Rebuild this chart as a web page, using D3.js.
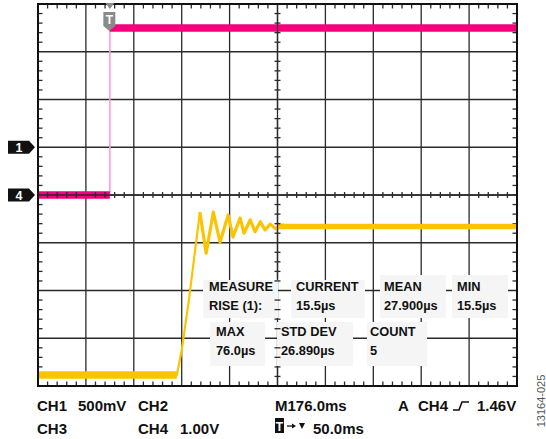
<!DOCTYPE html>
<html>
<head>
<meta charset="utf-8">
<script src="https://cdn.jsdelivr.net/npm/d3@7"></script>
<style>
  html, body { margin: 0; padding: 0; background: #fff; }
  svg { display: block; }
  text { font-family: "Liberation Sans", Arial, sans-serif; }
</style>
</head>
<body>
<script>
// Scope screen: 10 horizontal x 8 vertical divisions, values in divisions.
// x: 0..10 from left edge, y: -4..4 around the centre line.

// CH4 (magenta) – step at the trigger point
const ch4Time  = [0, 1.50, 1.50, 10];
const ch4Level = [0, 0, 3.50, 3.50];

// CH1 (yellow) – delayed rise with damped ringing, then settled
const ch1Time  = [0, 2.90, 3.00, 3.15, 3.38, 3.51, 3.66, 3.80, 3.97, 4.07,
                  4.22, 4.30, 4.43, 4.53, 4.64, 4.74, 4.85, 4.97, 5.10, 5.26, 10];
const ch1Level = [-3.77, -3.77, -3.25, -2.20, -0.36, -1.22, -0.36, -0.99, -0.42, -0.88,
                  -0.48, -0.80, -0.52, -0.77, -0.56, -0.73, -0.61, -0.71, -0.63, -0.67, -0.66];

// Flat (noisy) stretches of each trace: [from, to, level]
const ch4Bands = [[0, 1.50, 0], [1.50, 10, 3.50]];
const ch1Bands = [[0, 2.90, -3.77], [5.0, 10, -0.66]];

// Channel ground markers on the left edge
const markerNames  = ["1", "4"];
const markerLevels = [1, 0];

// Measurement table
const measTitles = ["MEASURE", "CURRENT", "MEAN", "MIN", "MAX", "STD DEV", "COUNT"];
const measValues = ["RISE (1):", "15.5µs", "27.900µs", "15.5µs", "76.0µs", "26.890µs", "5"];

// Status line text
const statusRow1 = ["CH1", "500mV", "CH2", "M176.0ms", "A", "CH4", "1.46V"];
const statusRow2 = ["CH3", "CH4", "1.00V", "50.0ms"];
const figureId = "13164-025";

const W = 546, H = 439;
const svg = d3.select("body").append("svg").attr("width", W).attr("height", H);

const x = d3.scaleLinear().domain([0, 10]).range([38, 517]);
const y = d3.scaleLinear().domain([-4, 4]).range([386, 4]);

const gridColor = "#2a2a2a";
const g = svg.append("g");

// Major grid lines
const majorX = d3.range(1, 10);
const majorY = d3.range(-3, 4);
g.selectAll("line.vx").data(majorX).join("line")
  .attr("x1", d => x(d)).attr("x2", d => x(d))
  .attr("y1", y(4)).attr("y2", y(-4))
  .attr("stroke", gridColor).attr("stroke-width", 1.3);
g.selectAll("line.hy").data(majorY).join("line")
  .attr("x1", x(0)).attr("x2", x(10))
  .attr("y1", d => y(d)).attr("y2", d => y(d))
  .attr("stroke", gridColor).attr("stroke-width", 1.3);

// Minor ticks on the frame and on the centre cross
const minorX = d3.range(1, 50).filter(i => i % 5 !== 0).map(i => i / 5);
const minorY = d3.range(-19, 20).filter(i => i % 5 !== 0).map(i => i / 5);
const tickG = svg.append("g").attr("stroke", gridColor).attr("stroke-width", 1.3);
// top & bottom
tickG.selectAll("line.tt").data(minorX).join("line")
  .attr("x1", d => x(d)).attr("x2", d => x(d)).attr("y1", y(4)).attr("y2", y(4) + 4.5);
tickG.selectAll("line.tb").data(minorX).join("line")
  .attr("x1", d => x(d)).attr("x2", d => x(d)).attr("y1", y(-4)).attr("y2", y(-4) - 4.5);
// left & right
tickG.selectAll("line.tl").data(minorY).join("line")
  .attr("y1", d => y(d)).attr("y2", d => y(d)).attr("x1", x(0)).attr("x2", x(0) + 4.5);
tickG.selectAll("line.tr").data(minorY).join("line")
  .attr("y1", d => y(d)).attr("y2", d => y(d)).attr("x1", x(10)).attr("x2", x(10) - 4.5);

// Traces
const line = d3.line().x(d => x(d[0])).y(d => y(d[1]));
const ch1Pts = ch1Time.map((t, i) => [t, ch1Level[i]]);

// CH1 yellow
const yellow = "#fcc400";
svg.append("path").datum(ch1Pts.slice(0, 5)).attr("d", line)
  .attr("fill", "none").attr("stroke", yellow).attr("stroke-width", 2.2)
  .attr("stroke-linejoin", "round");
// ringing drawn heavier, as the noise thickens the trace there
svg.append("path").datum(ch1Pts.slice(4)).attr("d", line)
  .attr("fill", "none").attr("stroke", yellow).attr("stroke-width", 3.2)
  .attr("stroke-linejoin", "round");
svg.selectAll("line.b1").data(ch1Bands).join("line")
  .attr("x1", d => x(d[0])).attr("x2", d => x(d[1]))
  .attr("y1", d => y(d[2])).attr("y2", d => y(d[2]))
  .attr("stroke", yellow).attr("stroke-width", (d, i) => i === 0 ? 7.5 : 5.5);

// CH4 magenta
const magenta = "#f4007c";
svg.append("line")
  .attr("x1", x(ch4Time[1])).attr("x2", x(ch4Time[2]))
  .attr("y1", y(ch4Level[1])).attr("y2", y(ch4Level[2]))
  .attr("stroke", "#ff9ed0").attr("stroke-width", 1.6);
svg.selectAll("line.b4").data(ch4Bands).join("line")
  .attr("x1", d => x(d[0])).attr("x2", d => x(d[1]))
  .attr("y1", d => y(d[2])).attr("y2", d => y(d[2]))
  .attr("stroke", magenta).attr("stroke-width", 7.5);

// Measurement boxes
const boxes = [
  [203, 280, 75, 38], [291, 280, 74, 38], [380, 275, 66, 43], [452, 275, 56, 43],
  [210, 322, 55, 44], [277, 322, 76, 44], [367, 322, 60, 44]
];
const textX = [209, 296, 384, 457, 216, 281, 370];
const titleY = [291, 291, 291, 291, 336, 336, 336];
const mg = svg.append("g");
mg.selectAll("rect").data(boxes).join("rect")
  .attr("x", d => d[0]).attr("y", d => d[1]).attr("width", d => d[2]).attr("height", d => d[3])
  .attr("fill", "#f5f5f5");
mg.selectAll("text.t").data(measTitles).join("text")
  .attr("x", (d, i) => textX[i]).attr("y", (d, i) => titleY[i])
  .attr("font-size", 12.8).attr("font-weight", "bold").attr("fill", "#111").text(d => d);
mg.selectAll("text.v").data(measValues).join("text")
  .attr("x", (d, i) => textX[i]).attr("y", (d, i) => titleY[i] + 19)
  .attr("font-size", 12.8).attr("font-weight", "bold").attr("fill", "#111").text(d => d);

// Centre cross with its ticks (drawn above the table)
const cross = svg.append("g").attr("stroke", gridColor).attr("stroke-width", 1.3);
cross.append("line").attr("x1", x(0)).attr("x2", x(10)).attr("y1", y(0)).attr("y2", y(0));
cross.append("line").attr("x1", x(5)).attr("x2", x(5)).attr("y1", y(4)).attr("y2", y(1.8));
cross.append("line").attr("x1", x(5)).attr("x2", x(5)).attr("y1", y(1.6)).attr("y2", y(-1.75));
cross.append("line").attr("x1", x(5)).attr("x2", x(5)).attr("y1", y(-3.6)).attr("y2", y(-4));
cross.selectAll("line.cx").data(minorX).join("line")
  .attr("x1", d => x(d)).attr("x2", d => x(d)).attr("y1", y(0) - 3).attr("y2", y(0) + 3);
cross.selectAll("line.cy").data(minorY).join("line")
  .attr("y1", d => y(d)).attr("y2", d => y(d)).attr("x1", x(5) - 3).attr("x2", x(5) + 3);

// Frame
svg.append("rect").attr("x", x(0)).attr("y", y(4))
  .attr("width", x(10) - x(0)).attr("height", y(-4) - y(4))
  .attr("fill", "none").attr("stroke", "#111").attr("stroke-width", 2);

// Trigger position marker at top
const tx = x(ch4Time[1]);
svg.append("path")
  .attr("d", `M${tx - 4.5},3 L${tx + 4.5},3 L${tx},9 Z`).attr("fill", "#8a8a8a");
svg.append("path")
  .attr("d", `M${tx - 6.5},12 L${tx + 5.5},12 L${tx + 5.5},26 L${tx - 0.5},31 L${tx - 6.5},26 Z`)
  .attr("fill", "#8a8a8a");
svg.append("text").attr("x", tx - 0.5).attr("y", 24).attr("text-anchor", "middle")
  .attr("font-size", 12).attr("font-weight", "bold").attr("fill", "#fff").text("T");

// Channel markers on left edge
const mk = svg.selectAll("g.mk").data(markerNames).join("g")
  .attr("transform", (d, i) => `translate(0,${y(markerLevels[i])})`);
mk.append("path").attr("d", "M8,-6.5 L29,-6.5 L35,0 L29,6.5 L8,6.5 Z").attr("fill", "#111");
mk.append("text").attr("x", 19).attr("y", 4.5).attr("text-anchor", "middle")
  .attr("font-size", 12.5).attr("font-weight", "bold").attr("fill", "#fff").text(d => d);

// Status lines below the screen
const st = svg.append("g").attr("font-size", 15).attr("font-weight", "bold").attr("fill", "#111");
const row1X = [37, 78, 138, 275, 398, 418, 477];
st.selectAll("text.r1").data(statusRow1).join("text")
  .attr("x", (d, i) => row1X[i]).attr("y", 411).text(d => d);
const row2X = [37, 138, 180, 313];
st.selectAll("text.r2").data(statusRow2).join("text")
  .attr("x", (d, i) => row2X[i]).attr("y", 434).text(d => d);

// Rising-edge trigger symbol
svg.append("path").attr("d", "M453,410 L459,410 L462,402 L469,402")
  .attr("fill", "none").attr("stroke", "#111").attr("stroke-width", 1.6);

// Trigger-position indicator: T box, arrow, down triangle
svg.append("rect").attr("x", 275).attr("y", 418).attr("width", 9).attr("height", 15).attr("fill", "#111");
svg.append("text").attr("x", 279.5).attr("y", 431).attr("text-anchor", "middle")
  .attr("font-size", 12).attr("font-weight", "bold").attr("fill", "#fff").text("T");
svg.append("path").attr("d", "M287,426 L293,426").attr("stroke", "#111").attr("stroke-width", 1.3);
svg.append("path").attr("d", "M292,423.5 L296,426 L292,428.5 Z").attr("fill", "#111");
svg.append("path").attr("d", "M299,423 L305,423 L302,429 Z").attr("fill", "#111");

// Figure id, rotated along the right edge
svg.append("text").attr("transform", "translate(545,401) rotate(-90)")
  .attr("text-anchor", "middle").attr("font-size", 11).attr("fill", "#555").text(figureId);
</script>
</body>
</html>
